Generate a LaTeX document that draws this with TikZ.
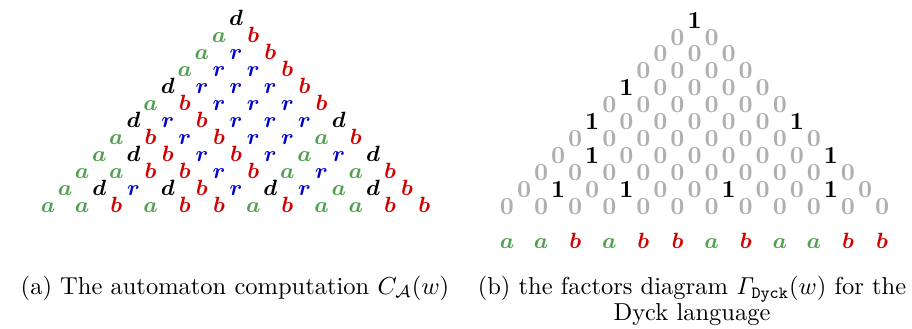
\documentclass[tikz,border=0pt]{standalone}
\usepackage{amsmath, amssymb}
\usepackage{tikz}

\definecolor{stgreen}{RGB}{80,160,80}
\definecolor{stred}{RGB}{210,0,0}
\definecolor{stblue}{RGB}{0,0,205}
\definecolor{zerogray}{RGB}{175,175,175}

\begin{document}
\begin{tikzpicture}[x=0.408pt, y=-0.408pt,
                lt/.style={anchor=base, inner sep=0pt, font=\fontsize{9}{9}\selectfont},
                lta/.style={lt, text=stgreen},
                ltb/.style={lt, text=stred},
                ltr/.style={lt, text=stblue},
                ltd/.style={lt, text=black},
                fac/.style={anchor=base, inner sep=0pt, font=\fontsize{10}{10}\bfseries},
                fac0/.style={fac, text=zerogray},
                fac1/.style={fac, text=black},
                subcap/.style={anchor=base, align=center, inner sep=0pt, font=\fontsize{10}{10.3}\selectfont}]
                \useasboundingbox (0,0) rectangle (912,328);
                % (a) automaton computation, rows from the bottom
                \foreach \row [count=\r from 0] in {{a,a,b,a,b,b,a,b,a,a,b,b},{a,d,r,d,b,r,d,r,a,d,b},
                    {a,a,b,b,r,b,a,r,a,b},{a,d,b,r,b,r,a,r,d},{a,b,r,b,r,r,a,b},{d,r,b,r,r,r,d},
                    {a,b,r,r,r,b},{d,r,r,r,b},{a,r,r,b},{a,r,b},{a,b},{d}}
                    \foreach \s [count=\i from 0] in \row
                        \node[lt\s] (c-\r-\i) at ({48+17.1*\r+34.2*\i},{212-17*\r}) {$\boldsymbol{\s}$};
                % (b) factors diagram
                \foreach \row [count=\r from 0] in {{0,0,0,0,0,0,0,0,0,0,0,0},{0,1,0,1,0,0,1,0,0,1,0},
                    {0,0,0,0,0,0,0,0,0,0},{0,1,0,0,0,0,0,0,1},{0,0,0,0,0,0,0,0},{1,0,0,0,0,0,1},
                    {0,0,0,0,0,0},{1,0,0,0,0},{0,0,0,0},{0,0,0},{0,0},{1}}
                    \foreach \v [count=\i from 0] in \row
                        \node[fac\v] (f-\r-\i) at ({507+17.05*\r+34.1*\i},{214-16.9*\r}) {\v};
                \foreach \s [count=\i from 0] in {a,a,b,a,b,b,a,b,a,a,b,b}
                    \node[lt\s] (w-\i) at ({507+34.1*\i},248) {$\boldsymbol{\s}$};
                \node[subcap] (capa) at (235,294) {(a) The automaton computation $C_{\mathcal{A}}(w)$};
                \node[subcap] (capb) at (692,320) {(b) the factors diagram $\mathit{\Gamma}_{\texttt{Dyck}}(w)$ for the\\ Dyck language};
            \end{tikzpicture}
\end{document}
